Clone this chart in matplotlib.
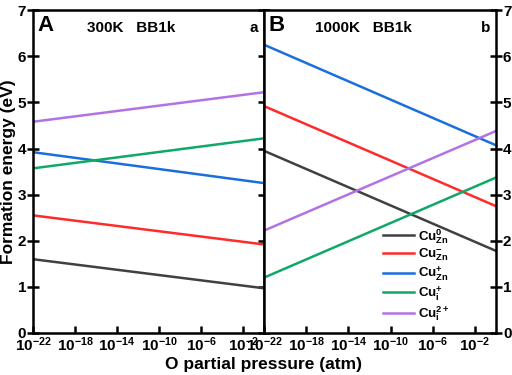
import numpy as np
import matplotlib
matplotlib.use('Agg')
import matplotlib.pyplot as plt

plt.rcParams['font.family'] = 'Liberation Sans'
plt.rcParams['font.weight'] = 'bold'
plt.rcParams['mathtext.fontset'] = 'custom'
plt.rcParams['mathtext.rm'] = 'Liberation Sans:bold'
plt.rcParams['mathtext.bf'] = 'Liberation Sans:bold'
plt.rcParams['mathtext.it'] = 'Liberation Sans:bold'

# log10 of O partial pressure, ends of each line
logp = [-22, 0]

labels = [r'$\mathrm{Cu_{Zn}^{0}}$', r'$\mathrm{Cu_{Zn}^{-}}$', r'$\mathrm{Cu_{Zn}^{+}}$',
          r'$\mathrm{Cu_{i}^{+}}$', r'$\mathrm{Cu_{i}^{2+}}$']
colors = ['#404040', '#ff2b2b', '#1a6fdc', '#10a866', '#b272e6']

# panel A, 300K
e300_start = [1.60, 2.55, 3.92, 3.57, 4.58]
e300_end = [0.97, 1.92, 3.25, 4.22, 5.22]
# panel B, 1000K
e1000_start = [3.95, 4.92, 6.25, 1.20, 2.22]
e1000_end = [1.78, 2.75, 4.07, 3.37, 4.38]

xticks = [-22, -18, -14, -10, -6, -2]
xticklabels = [r'$\mathrm{10^{%d}}$' % t for t in xticks]

fig = plt.figure(figsize=(5.12, 3.75), dpi=100)
axA = fig.add_axes([0.0645, 0.112, 0.4511, 0.861])
axB = fig.add_axes([0.5156, 0.112, 0.4531, 0.861])

for ax, st, en in [(axA, e300_start, e300_end), (axB, e1000_start, e1000_end)]:
    for i in range(len(labels)):
        ax.plot(logp, [st[i], en[i]], color=colors[i], lw=1.8, label=labels[i])
    ax.set_xlim(-22, 0)
    ax.set_ylim(0, 7)
    ax.set_xticks(xticks)
    ax.set_xticklabels(xticklabels, fontsize=11)
    ax.set_yticks(range(8))
    for s in ax.spines.values():
        s.set_linewidth(1.8)
    ax.tick_params(axis='x', direction='in', length=5, width=1.8, pad=2)
    ax.tick_params(axis='y', direction='inout', length=8, width=1.8, labelsize=11, pad=1)
    for lab in ax.get_yticklabels():
        lab.set_fontweight('bold')

axA.yaxis.set_ticks_position('both')
axA.tick_params(axis='y', labelright=False)
axB.yaxis.set_ticks_position('right')
axB.tick_params(axis='y', labelleft=False, labelright=True)

axA.set_ylabel('Formation energy (eV)', fontsize=12.5, fontweight='bold', labelpad=1)
fig.text(0.515, 0.015, 'O partial pressure (atm)', fontsize=12.5, fontweight='bold', ha='center')

axA.text(0.02, 0.985, 'A', transform=axA.transAxes, fontsize=16, fontweight='bold', va='top')
axA.text(0.235, 0.965, '300K   BB1k', transform=axA.transAxes, fontsize=11, fontweight='bold', va='top')
axA.text(0.975, 0.965, 'a', transform=axA.transAxes, fontsize=11, fontweight='bold', va='top', ha='right')
axB.text(0.02, 0.985, 'B', transform=axB.transAxes, fontsize=16, fontweight='bold', va='top')
axB.text(0.22, 0.965, '1000K   BB1k', transform=axB.transAxes, fontsize=11, fontweight='bold', va='top')
axB.text(0.975, 0.965, 'b', transform=axB.transAxes, fontsize=11, fontweight='bold', va='top', ha='right')

axB.legend(loc='lower right', bbox_to_anchor=(0.85, -0.005), frameon=False, fontsize=9.5,
           handlelength=2.3, handletextpad=0.3, labelspacing=0.08)

fig.savefig('out.png', dpi=100)
